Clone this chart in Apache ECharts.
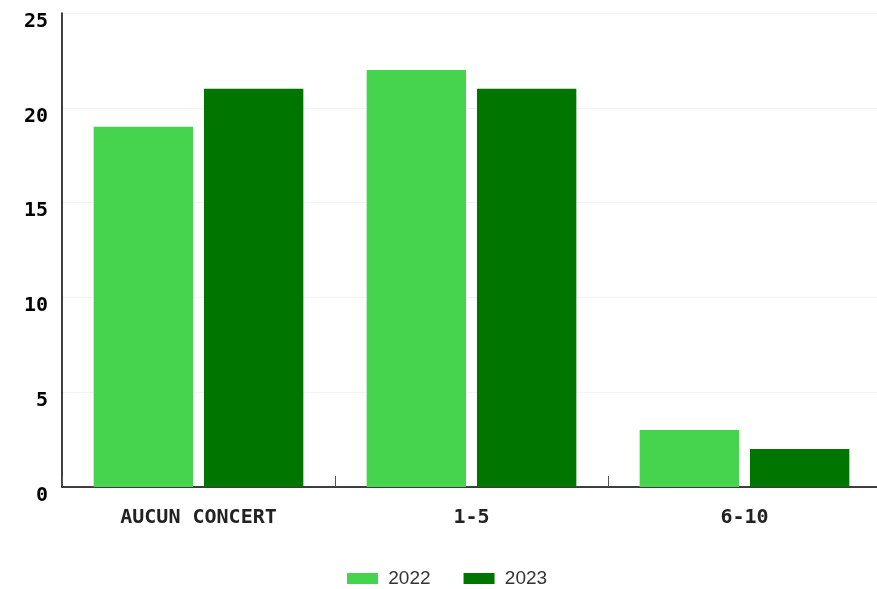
<!DOCTYPE html>
<html><head><meta charset="utf-8">
<script src="https://cdn.jsdelivr.net/npm/echarts@6/dist/echarts.min.js"></script>
<style>html,body{margin:0;padding:0;background:#fff}#c{width:877px;height:589px}</style>
</head><body><div id="c"></div>
<script>
const categories = ['AUCUN CONCERT', '1-5', '6-10'];
const series2022 = [19, 22, 3];
const series2023 = [21, 21, 2];
const yTicks = [0, 5, 10, 15, 20, 25];

const chart = echarts.init(document.getElementById('c'));
chart.setOption({
  animation: false,
  grid: {left: 62, width: 819, top: 13, bottom: 102, containLabel: false, outerBoundsMode: 'none'},
  legend: {
    top: 564, left: 342, itemWidth: 31, itemHeight: 11, itemGap: 33,
    icon: 'rect',
    formatter: ' {name}',
    textStyle: {fontFamily: 'Liberation Sans', fontSize: 19, color: '#333'},
    data: ['2022', '2023']
  },
  xAxis: {
    type: 'category', data: categories,
    axisLine: {lineStyle: {color: '#000', width: 1.5}},
    axisTick: {show: true, alignWithLabel: false, inside: true, length: 11, lineStyle: {color: '#555', width: 1}},
    axisLabel: {fontFamily: 'DejaVu Sans Mono', fontWeight: 'bold', fontSize: 20, color: '#222', margin: 21}
  },
  yAxis: {
    type: 'value', min: yTicks[0], max: yTicks[yTicks.length - 1], interval: 5,
    axisLine: {show: true, lineStyle: {color: '#000', width: 1.5}},
    axisTick: {show: false},
    splitLine: {lineStyle: {color: '#f3f3f3'}},
    axisLabel: {fontFamily: 'DejaVu Sans Mono', fontWeight: 'bold', fontSize: 20, color: '#000', margin: 14, verticalAlign: 'top', lineHeight: 17}
  },
  series: [
    {name: '2022', type: 'bar', data: series2022, barWidth: '36.4%', barGap: '11%', itemStyle: {color: '#46d44f'}},
    {name: '2023', type: 'bar', data: series2023, barWidth: '36.4%', itemStyle: {color: '#007500'}}
  ]
});
</script></body></html>
